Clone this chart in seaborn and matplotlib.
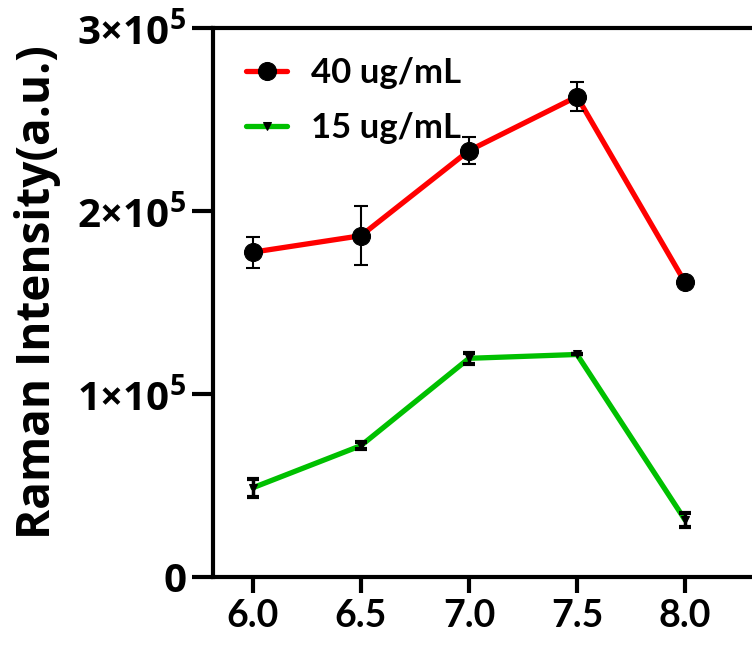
import numpy as np
import pandas as pd
import matplotlib
matplotlib.use('Agg')
import matplotlib.pyplot as plt
import seaborn as sns

# ========================
# DATA
# ========================
ph = [6.0, 6.5, 7.0, 7.5, 8.0]

int_40 = [1.775e5, 1.865e5, 2.33e5, 2.625e5, 1.61e5]
err_40 = [0.085e5, 0.16e5, 0.074e5, 0.08e5, 0.0]

int_15 = [0.488e5, 0.718e5, 1.195e5, 1.216e5, 0.312e5]
err_15 = [0.05e5, 0.02e5, 0.03e5, 0.0, 0.04e5]

labels = ['40 ug/mL', '15 ug/mL']
y_ticks = [0, 1e5, 2e5, 3e5]
y_ticklabels = ['0', r'$\mathbf{1×10^{5}}$', r'$\mathbf{2×10^{5}}$', r'$\mathbf{3×10^{5}}$']

df40 = pd.DataFrame({'pH': ph, 'intensity': int_40})
df15 = pd.DataFrame({'pH': ph, 'intensity': int_15})

# ========================
# STYLE
# ========================
sns.set_style('ticks')
plt.rcParams['font.family'] = ['Open Sans', 'DejaVu Sans']
plt.rcParams['mathtext.fontset'] = 'custom'
plt.rcParams['mathtext.bf'] = 'Open Sans:bold'
plt.rcParams['mathtext.rm'] = 'Open Sans'
plt.rcParams['text.color'] = 'black'
plt.rcParams['axes.labelcolor'] = 'black'
plt.rcParams['xtick.color'] = 'black'
plt.rcParams['ytick.color'] = 'black'

fig = plt.figure(figsize=(7.52, 6.47), dpi=100)
ax = fig.add_axes([213 / 752, 70 / 647, 1 - 213 / 752, 549 / 647])

# ========================
# LINES
# ========================
sns.lineplot(data=df40, x='pH', y='intensity', ax=ax, color='#ff0000',
             linewidth=3.8, marker='o', markersize=13,
             markerfacecolor='black', markeredgecolor='black',
             label=labels[0], zorder=3)
sns.lineplot(data=df15, x='pH', y='intensity', ax=ax, color='#00c000',
             linewidth=3.8, marker='v', markersize=6,
             markerfacecolor='black', markeredgecolor='black',
             label=labels[1], zorder=3)

ax.errorbar(ph, int_40, yerr=err_40, fmt='none', ecolor='black',
            elinewidth=1.5, capsize=5, capthick=1.5, zorder=4)
ax.errorbar(ph, int_15, yerr=err_15, fmt='none', ecolor='black',
            elinewidth=2.5, capsize=4.3, capthick=3, zorder=4)

# ========================
# AXES
# ========================
ax.set_xlim(5.815, 8.31)
ax.set_ylim(0, 3e5)
ax.set_xticks(ph)
ax.set_xticklabels([f'{v:.1f}' for v in ph], family='Lato', fontweight='bold', fontsize=27)
ax.set_yticks(y_ticks)
ax.set_yticklabels(y_ticklabels, fontsize=29, fontweight='bold')

ax.set_xlabel('')
ax.set_ylabel('Raman Intensity(a.u.)', fontsize=33, fontweight='bold', color='black')
ax.yaxis.set_label_coords(-0.282, 0.519)

for side in ['left', 'bottom', 'top']:
    ax.spines[side].set_linewidth(3)
    ax.spines[side].set_color('black')
ax.spines['right'].set_visible(False)

ax.tick_params(axis='x', direction='out', length=11.5, width=3, pad=4, colors='black')
ax.tick_params(axis='y', direction='out', length=15, width=3, pad=4, colors='black')

leg = ax.legend(loc='upper left', frameon=False, handlelength=1.2,
                prop={'family': 'Lato', 'weight': 'bold', 'size': 25},
                borderaxespad=0, borderpad=0.4, handletextpad=0.69,
                labelspacing=0.66, bbox_to_anchor=(0.035, 0.972))
for t in leg.get_texts():
    t.set_color('black')

fig.savefig('out.png', dpi=100)
plt.close(fig)
